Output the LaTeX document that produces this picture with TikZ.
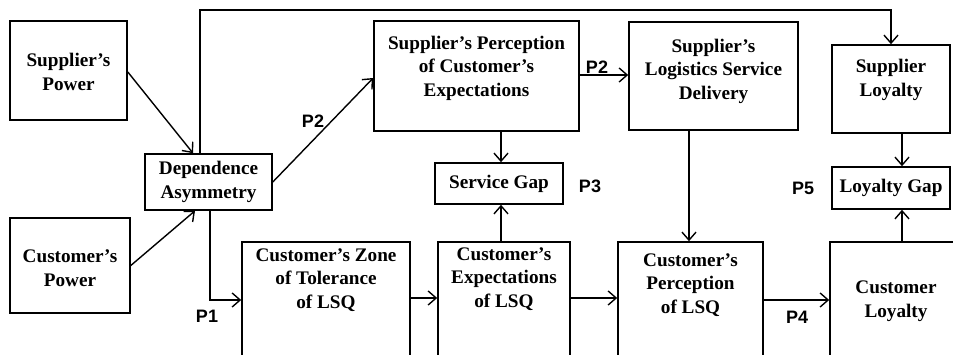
\documentclass[tikz,border=0pt]{standalone}
\usepackage{fontspec}
\setmainfont{Liberation Serif}
\newfontfamily\plabfont{Liberation Sans}
\usetikzlibrary{arrows.meta}
\begin{document}
\begin{tikzpicture}[x=1pt,y=-1pt,
  box/.style={draw,line width=1.6pt,inner sep=0pt},
  txt/.style={align=center,font=\fontsize{19.2}{23.5}\selectfont\bfseries,inner sep=0pt},
  plab/.style={font=\fontsize{18}{20}\selectfont\bfseries\plabfont,inner sep=0pt},
  conn/.style={line width=1.4pt,-{Straight Barb[length=8pt,width=14pt,line width=1.4pt]}},
  plain/.style={line width=1.4pt}]
\useasboundingbox (0,0) rectangle (953,355);
\clip (0,0) rectangle (953,355);
% boxes
\node[box,minimum width=117pt,minimum height=99pt] (sp) at (68.5,70.5) {};
\node[txt] (spt) at (68.5,72) {Supplier's\\Power};
\node[box,minimum width=120pt,minimum height=95pt] (cp) at (70,265.5) {};
\node[txt] (cpt) at (70,268) {Customer's\\Power};
\node[box,minimum width=127pt,minimum height=56pt] (da) at (208.5,182) {};
\node[txt] (dat) at (208.5,182) {Dependence\\Asymmetry};
\node[box,minimum width=205pt,minimum height=110pt] (spc) at (476.5,76) {};
\node[txt] (spct) at (476.5,68) {Supplier's Perception\\of Customer's\\Expectations};
\node[box,minimum width=169pt,minimum height=108pt] (lsd) at (713.5,76) {};
\node[txt] (lsdt) at (713.5,71) {Supplier's\\Logistics Service\\Delivery};
\node[box,minimum width=118pt,minimum height=88pt] (sl) at (891,89) {};
\node[txt] (slt) at (891,80) {Supplier\\Loyalty};
\node[box,minimum width=128pt,minimum height=41pt] (sg) at (499,183.5) {};
\node[txt] (sgt) at (499,184) {Service Gap};
\node[box,minimum width=118pt,minimum height=42pt] (lg) at (891,188) {};
\node[txt] (lgt) at (891,188) {Loyalty Gap};
\node[box,minimum width=168pt,minimum height=118pt] (zone) at (326,301) {};
\node[txt] (zonet) at (326,280) {Customer's Zone\\of Tolerance\\of LSQ};
\node[box,minimum width=132pt,minimum height=118pt] (ce) at (504,301) {};
\node[txt] (cet) at (504,279) {Customer's\\Expectations\\of LSQ};
\node[box,minimum width=145pt,minimum height=118pt] (cpl) at (690.5,301) {};
\node[txt] (cplt) at (690.5,285) {Customer's\\Perception\\of LSQ};
\node[box,minimum width=130pt,minimum height=118pt] (cl) at (895,301) {};
\node[txt] (clt) at (896,301) {Customer\\Loyalty};
% labels
\node[plab] (p1) at (207,316) {P1};
\node[plab] (p2a) at (313,121) {P2};
\node[plab] (p2b) at (597,67) {P2};
\node[plab] (p3) at (590,186) {P3};
\node[plab] (p4) at (797,317) {P4};
\node[plab] (p5) at (803,188) {P5};
% connectors
\coordinate (c1) at (200,10);
\coordinate (c2) at (891,10);
\draw[conn] (sp.east |- 0,72) -- (da.north -| 193,0);
\draw[conn] (cp.east) -- (da.south -| 195,0);
\draw[conn] (da.north -| c1) -- (c1) -- (c2) -- (sl.north -| c2);
\draw[conn] (da.east) -- (spc.west |- 0,78);
\draw[conn] (spc.east |- 0,75) -- (lsd.west |- 0,75);
\draw[conn] (spc.south -| 501,0) -- (sg.north -| 501,0);
\draw[conn] (ce.north -| 501,0) -- (sg.south -| 501,0);
\draw[conn] (da.south -| 210,0) -- (210,300) -- (zone.west |- 0,300);
\draw[conn] (zone.east |- 0,298) -- (ce.west |- 0,298);
\draw[conn] (ce.east |- 0,298) -- (cpl.west |- 0,298);
\draw[conn] (lsd.south -| 689,0) -- (cpl.north -| 689,0);
\draw[conn] (cpl.east |- 0,300) -- (cl.west |- 0,300);
\draw[conn] (cl.north -| 902,0) -- (lg.south -| 902,0);
\draw[conn] (sl.south -| 902,0) -- (lg.north -| 902,0);
\end{tikzpicture}
\end{document}
